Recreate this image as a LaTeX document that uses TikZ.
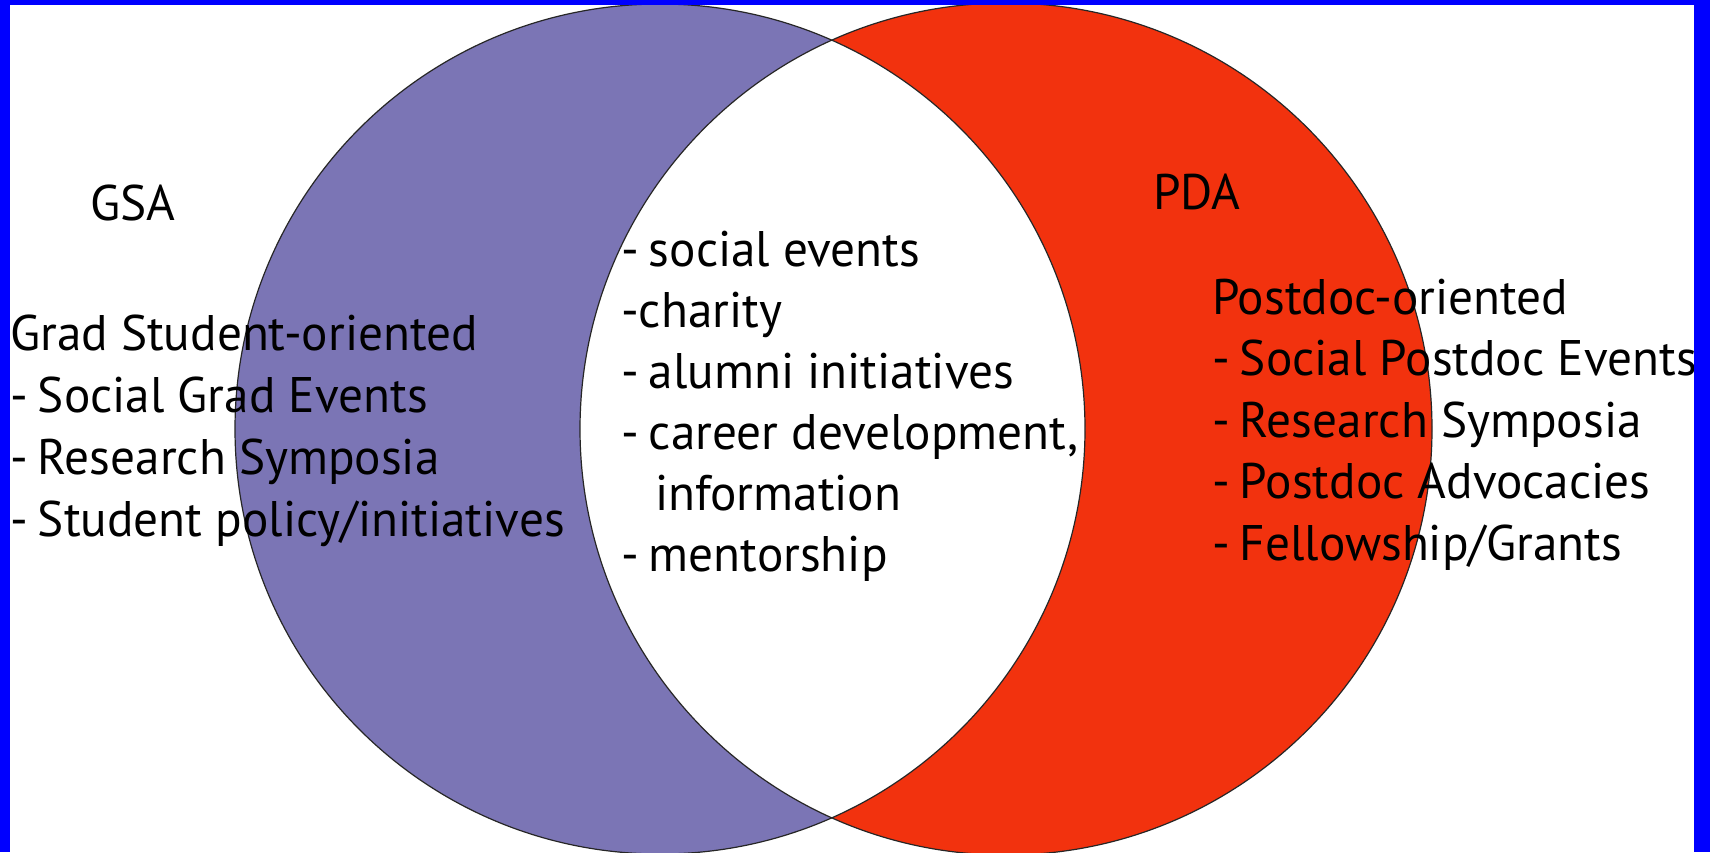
\documentclass[tikz,border=0pt]{standalone}
\usepackage{fontspec}
\setmainfont{PT Sans}[FakeStretch=0.985]
\definecolor{gsacol}{RGB}{123,117,181}
\definecolor{pdacol}{RGB}{242,50,14}
\definecolor{framecol}{RGB}{0,0,255}
\newcommand{\dsh}{-\hspace{10pt}}
\begin{document}
\begin{tikzpicture}[x=1pt,y=-1pt,
  txt/.style={anchor=base west, inner sep=0pt, text=black, font=\fontsize{50}{60}\selectfont},
  ring/.style={draw=black!85, line width=1.2pt}]
\useasboundingbox (0,0) rectangle (1710,852);
\fill[white] (0,0) rectangle (1710,852);
\coordinate (cl) at (660,429);
\coordinate (cr) at (1006,429);
\begin{scope}
  \clip (0,0) rectangle (1710,852);
  \fill[gsacol] (cl) circle (425pt);
  \fill[pdacol] (cr) circle (426pt);
  \begin{scope}
    \clip (cl) circle (425pt);
    \fill[white] (cr) circle (426pt);
  \end{scope}
  \draw[ring] (cl) circle (425pt);
  \draw[ring] (cr) circle (426pt);
\end{scope}
% left block
\node[txt] (gsa) at (90,220) {GSA};
\node[txt] (g1) at (10,350) {Grad Student-oriented};
\node[txt] (g2) at (10,412) {\dsh Social Grad Events};
\node[txt] (g3) at (10,474) {\dsh Research Symposia};
\node[txt] (g4) at (10,536) {\dsh Student policy/initiatives};
% centre block
\node[txt] (c1) at (621,266) {\dsh social events};
\node[txt] (c2) at (621,327) {-charity};
\node[txt] (c3) at (621,388) {\dsh alumni initiatives};
\node[txt] (c4) at (621,449) {\dsh career development,};
\node[txt] (c5) at (655,510) {information};
\node[txt] (c6) at (621,571) {\dsh mentorship};
% right block
\node[txt] (pda) at (1153,209) {PDA};
\node[txt] (p1) at (1212,314) {Postdoc-oriented};
\node[txt] (p2) at (1212,375) {\dsh Social Postdoc Events};
\node[txt] (p3) at (1212,437) {\dsh Research Symposia};
\node[txt] (p4) at (1212,498) {\dsh Postdoc Advocacies};
\node[txt] (p5) at (1212,560) {\dsh Fellowship/Grants};
% blue frame
\fill[framecol] (0,0) rectangle (1710,5);
\fill[framecol] (0,0) rectangle (10,852);
\fill[framecol] (1694,0) rectangle (1710,852);
\end{tikzpicture}
\end{document}
